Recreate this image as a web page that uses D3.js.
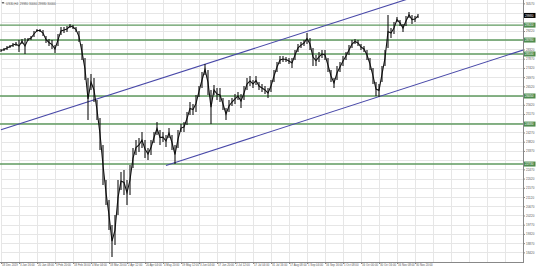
<!DOCTYPE html>
<html>
<head>
<meta charset="utf-8">
<script src="https://cdn.jsdelivr.net/npm/d3@7/dist/d3.min.js"></script>
<style>
  body { margin: 0; background: #fff; }
  svg { display: block; font-family: "Liberation Sans", Arial, sans-serif; }
</style>
</head>
<body>
<div id="chart"></div>
<script>
// US30 H4 bars, one entry per bar slot (high / low)
const highs = [28340,28390,28490,28540,28640,28680,28780,28830,28880,28880,28980,29220,29320,29320,29270,28980,28830,28780,28540,29080,
  29420,29420,29470,29560,29510,29420,29220,28590,27900,26930,27120,26930,25850,24980,23660,21950,20970,19750,20240,21950,
  22340,22440,21950,22680,23510,23900,24000,24290,23900,23510,23900,24290,24780,24390,24290,24150,24490,24150,23660,24390,
  24680,24780,25270,25760,25660,26100,26540,27220,27610,27320,26340,26590,26440,26440,25950,25460,25850,25950,26150,26240,
  26150,26540,26930,27030,26830,27030,26730,26640,26540,26440,26830,27320,27710,28000,28000,27950,27900,27900,28290,28590,
  28680,28780,29120,28880,28390,28050,28200,28290,28290,27900,27320,26930,27510,27710,28000,28200,28540,28780,28830,28780,
  28590,28490,28290,27900,27420,26730,26640,27510,28290,30000,29370,29660,29900,29760,29560,29950,30150,30000,29950,30050];
const lows = [28200,28250,28290,28390,28440,28490,28200,28590,28100,28730,28780,28930,29170,29170,28980,28640,28490,28340,28150,28490,
  29030,29120,29170,29370,29320,29170,28680,27810,26830,24880,26340,25760,24880,23410,21710,20730,19510,18190,18780,20240,
  21460,21220,20730,21220,22540,23170,23320,23510,23020,22930,23170,23760,24150,23660,23800,23560,24000,23410,22730,23510,
  24290,24290,24630,25120,25120,25270,26000,26440,27070,26100,24680,26100,25850,25760,25370,24880,25270,25560,25660,25850,
  25460,25850,26340,26540,26440,26590,26340,26240,26150,25950,26240,26730,27220,27610,27710,27710,27610,27420,27810,28200,
  28390,28490,28590,28290,27510,27510,27710,27900,27810,27220,26730,26440,26830,27220,27510,27810,28050,28390,28590,28490,
  28290,28200,27810,27320,26640,26050,26000,26730,27510,28390,28880,29080,29660,29470,29170,29470,29860,29560,29660,29860];

const levels = [29510, 28780, 28100, 26050, 24680, 22730];
const channelUpper = [[0, 24400], [126, 30330]];
const channelLower = [[55, 22660], [126, 26020]];
const lastPrice = 29980;

const priceTicks = [30570,30120,29670,29220,28770,28320,27870,27420,26970,26520,26070,25620,25170,24720,
  24270,23820,23370,22920,22470,22020,21570,21120,20670,20220,19770,19320,18870,18420];

const timeLabels = ["18 Dec 2019","3 Jan 16:00","20 Jan 08:00","3 Feb 20:00","18 Feb 16:00","4 Mar 04:00",
  "18 Mar 20:00","2 Apr 12:00","20 Apr 04:00","4 May 20:00","19 May 12:00","3 Jun 04:00","17 Jun 20:00",
  "2 Jul 12:00","17 Jul 04:00","31 Jul 16:00","17 Aug 08:00","1 Sep 04:00","16 Sep 16:00","1 Oct 08:00",
  "16 Oct 00:00","30 Oct 16:00","16 Nov 08:00","30 Nov 20:00"];

const title = "US30,H4  29980 30060 29980 30000";

const W = 536, H = 269;
const plot = {left: 1, right: 523, top: 0, bottom: 262};
const slots = 174, labelEvery = 6;

const svg = d3.select("#chart").append("svg")
    .attr("width", W).attr("height", H);

const x = d3.scaleLinear().domain([0, slots]).range([plot.left, plot.right]);
const y = d3.scaleLinear().domain([17950, 30734]).range([plot.bottom, plot.top]);

svg.append("clipPath").attr("id", "clip")
  .append("rect")
    .attr("x", plot.left - 1).attr("y", plot.top)
    .attr("width", plot.right - plot.left + 1).attr("height", plot.bottom - plot.top);

// grid
const gridX = d3.range(0, slots, labelEvery);
svg.append("g").selectAll("line").data(gridX).join("line")
    .attr("x1", d => Math.round(x(d)) + 0.5).attr("x2", d => Math.round(x(d)) + 0.5)
    .attr("y1", plot.top).attr("y2", plot.bottom)
    .attr("stroke", "#e6e6e6").attr("stroke-width", 1);
svg.append("g").selectAll("line").data(priceTicks).join("line")
    .attr("x1", plot.left).attr("x2", plot.right)
    .attr("y1", d => Math.round(y(d)) + 0.5).attr("y2", d => Math.round(y(d)) + 0.5)
    .attr("stroke", "#e6e6e6").attr("stroke-width", 1);

const body = svg.append("g").attr("clip-path", "url(#clip)");

// horizontal levels
body.selectAll(".lvl").data(levels).join("line")
    .attr("class", "lvl")
    .attr("x1", plot.left - 1).attr("x2", plot.right)
    .attr("y1", d => y(d)).attr("y2", d => y(d))
    .attr("stroke", "#5f9a5f").attr("stroke-width", 1.4);

// channel rays
function ray(pts) {
  const [[i0, p0], [i1, p1]] = pts;
  const k = (p1 - p0) / (i1 - i0);
  return [[x(i0), y(p0)], [x(slots), y(p0 + k * (slots - i0))]];
}
body.selectAll(".ch").data([channelUpper, channelLower]).join("path")
    .attr("class", "ch")
    .attr("d", d => d3.line()(ray(d)))
    .attr("fill", "none")
    .attr("stroke", "#4848a8").attr("stroke-width", 1.1);

// price bars: high-low stems joined through their midpoints
const mids = highs.map((h, i) => (h + lows[i]) / 2);
body.append("path")
    .attr("d", d3.line().x((d, i) => x(i)).y(d => y(d))(mids))
    .attr("fill", "none").attr("stroke", "#111").attr("stroke-width", 1.1)
    .attr("stroke-linejoin", "miter");
body.selectAll(".bar").data(highs).join("line")
    .attr("class", "bar")
    .attr("x1", (d, i) => x(i)).attr("x2", (d, i) => x(i))
    .attr("y1", d => y(d))
    .attr("y2", (d, i) => y(lows[i]))
    .attr("stroke", "#111").attr("stroke-width", 1.1);

// frame
svg.append("line")
    .attr("x1", plot.right + 0.5).attr("x2", plot.right + 0.5)
    .attr("y1", 0).attr("y2", plot.bottom + 1)
    .attr("stroke", "#888").attr("stroke-width", 1);
svg.append("line")
    .attr("x1", 0).attr("x2", plot.right + 1)
    .attr("y1", plot.bottom + 0.5).attr("y2", plot.bottom + 0.5)
    .attr("stroke", "#888").attr("stroke-width", 1);

// price axis (labels under a tag are hidden, as in the terminal)
const tagPrices = levels.concat([lastPrice]);
const shownTicks = priceTicks.filter(t => tagPrices.every(v => Math.abs(y(v) - y(t)) > 4.5));
const yAxis = d3.axisRight(y).tickValues(shownTicks).tickSize(1.5).tickFormat(d3.format("d"));
const ga = svg.append("g").attr("transform", `translate(${plot.right + 0.5},0)`).call(yAxis);
ga.select(".domain").remove();
ga.selectAll("line").attr("stroke", "#888");
ga.selectAll("text").attr("font-size", 3).attr("fill", "#555").attr("x", 2.5);

// time axis
const tickIdx = timeLabels.map((_, i) => i * labelEvery);
const xAxis = d3.axisBottom(x).tickValues(tickIdx).tickSize(1.5)
    .tickFormat((d, i) => timeLabels[i]);
const gx = svg.append("g").attr("transform", `translate(0,${plot.bottom + 0.5})`).call(xAxis);
gx.select(".domain").remove();
gx.selectAll("line").attr("stroke", "#888");
gx.selectAll("text").attr("font-size", 2.8).attr("fill", "#555")
    .attr("text-anchor", "start").attr("dy", "0.7em").attr("y", 1.5).attr("dx", 0.5);

// price tags
const tags = svg.append("g");
levels.forEach(v => {
  tags.append("rect").attr("x", plot.right + 1).attr("y", y(v) - 2.5)
      .attr("width", 11.5).attr("height", 5).attr("fill", "#4f8c4f");
  tags.append("text").attr("x", plot.right + 2).attr("y", y(v) + 1.1)
      .attr("font-size", 3).attr("fill", "#fff").text(v);
});
tags.append("rect").attr("x", plot.right + 1).attr("y", y(lastPrice) - 2.5)
    .attr("width", 11.5).attr("height", 5).attr("fill", "#000");
tags.append("text").attr("x", plot.right + 2).attr("y", y(lastPrice) + 1.1)
    .attr("font-size", 3).attr("fill", "#fff").text(lastPrice);

// title
svg.append("path").attr("d", "M1.5,2 L4.5,2 L3,4 Z").attr("fill", "#666");
svg.append("text").attr("x", 6).attr("y", 4.5).attr("font-size", 3).attr("fill", "#555")
    .attr("xml:space", "preserve").text(title);
</script>
</body>
</html>
